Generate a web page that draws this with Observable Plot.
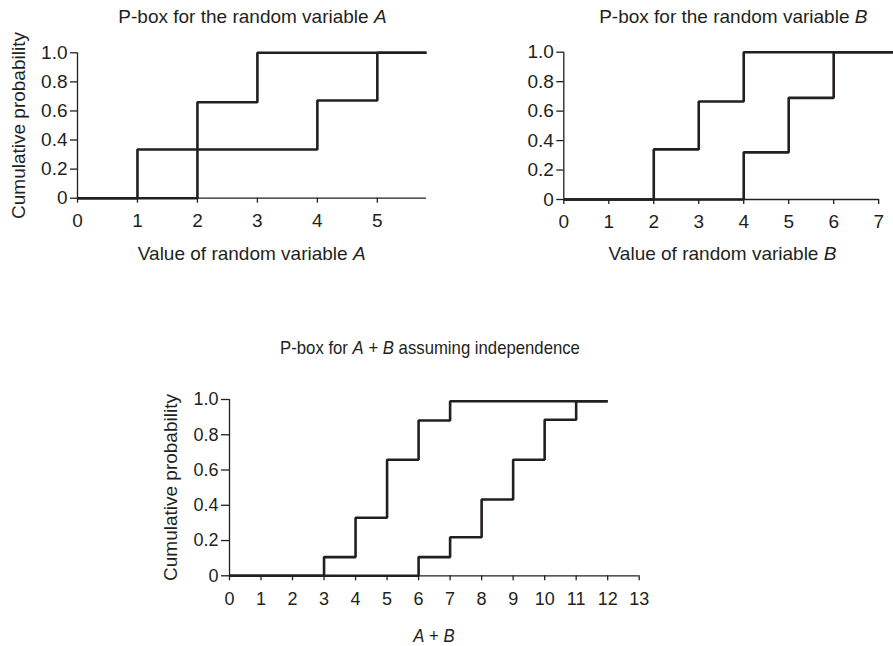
<!DOCTYPE html>
<html>
<head>
<meta charset="utf-8">
<script src="https://cdn.jsdelivr.net/npm/d3@7"></script>
<script src="https://cdn.jsdelivr.net/npm/@observablehq/plot@0.6"></script>
<style>
  html, body { margin: 0; padding: 0; background: #fff; }
  #root { position: relative; width: 893px; height: 646px; background: #fff; overflow: hidden;
          font-family: "Liberation Sans", Arial, Helvetica, sans-serif; color: #231f20; }
  .lbl { position: absolute; white-space: nowrap; text-align: center; line-height: 1; font-size: 19px; }
</style>
</head>
<body>
<div id="root"></div>
<script>
// ---------------- data ----------------
// P-box for A
const aLeftX  = [0, 1, 2, 3, 5.82];
const aLeftP  = [0, 0.335, 0.66, 1.0, 1.0];
const aRightX = [0, 2, 4, 5, 5.82];
const aRightP = [0, 0.335, 0.672, 1.0, 1.0];
const aXTicks = [0, 1, 2, 3, 4, 5];
const aXDomain = [0, 5.82];
const aAxisEnd = 5.82;

// P-box for B
const bLeftX  = [0, 2, 3, 4, 7.33];
const bLeftP  = [0, 0.34, 0.665, 1.0, 1.0];
const bRightX = [0, 4, 5, 6, 7.33];
const bRightP = [0, 0.32, 0.69, 1.0, 1.0];
const bXTicks = [0, 1, 2, 3, 4, 5, 6, 7];
const bXDomain = [0, 7.33];
const bAxisEnd = 7;

// P-box for A + B
const sLeftX  = [0, 3, 4, 5, 6, 7, 12];
const sLeftP  = [0, 0.106, 0.329, 0.658, 0.881, 0.99, 0.99];
const sRightX = [0, 6, 7, 8, 9, 10, 11, 12];
const sRightP = [0, 0.106, 0.219, 0.433, 0.658, 0.885, 0.99, 0.99];
const sXTicks = [0, 1, 2, 3, 4, 5, 6, 7, 8, 9, 10, 11, 12, 13];
const sXDomain = [0, 13];
const sAxisEnd = 13;

const yTicks = [0, 0.2, 0.4, 0.6, 0.8, 1.0];
const yDomain = [0, 1];

// ---------------- drawing ----------------
const INK = "#231f20";
const root = document.getElementById("root");
const fmtY = d => d === 0 ? "0" : d.toFixed(1);
const toRows = (xs, ps) => xs.map((x, i) => ({x, p: ps[i]}));

function panel({left, top, width, height, mL, mR, mT, mB, xDomain, xTicks, axisEnd, curves,
                fontSize, yTickSize, yTickPad, xTickSize, xTickPad}) {
  const marks = [
    Plot.ruleX([{x: 0, y1: yDomain[0], y2: yDomain[1]}], {x: "x", y1: "y1", y2: "y2", stroke: INK, strokeWidth: 1.3}),
    Plot.ruleY([{y: 0, x1: xDomain[0], x2: axisEnd}], {y: "y", x1: "x1", x2: "x2", stroke: INK, strokeWidth: 1.3}),
    Plot.axisY({ticks: yTicks, tickFormat: fmtY, tickSize: yTickSize, tickPadding: yTickPad,
                stroke: INK, strokeWidth: 1.3, label: null}),
    Plot.axisX({ticks: xTicks, tickFormat: d => String(d), tickSize: xTickSize, tickPadding: xTickPad,
                stroke: INK, strokeWidth: 1.3, label: null}),
    ...curves.map(c => Plot.line(c, {x: "x", y: "p", curve: "step-after", stroke: INK, strokeWidth: 2.6,
                                     strokeLinejoin: "miter", strokeLinecap: "butt"}))
  ];
  const svg = Plot.plot({
    width, height,
    marginLeft: mL, marginRight: mR, marginTop: mT, marginBottom: mB,
    x: {domain: xDomain, axis: null},
    y: {domain: yDomain, axis: null},
    style: {
      position: "absolute", left: left + "px", top: top + "px",
      fontFamily: '"Liberation Sans", Arial, Helvetica, sans-serif',
      fontSize: fontSize + "px", color: INK, background: "transparent", overflow: "visible",
      maxWidth: "none"
    },
    marks
  });
  root.appendChild(svg);
}

panel({left: 0, top: 0, width: 440, height: 240, mL: 77, mR: 14, mT: 52.3, mB: 42.3,
       xDomain: aXDomain, xTicks: aXTicks, axisEnd: aAxisEnd,
       curves: [toRows(aLeftX, aLeftP), toRows(aRightX, aRightP)],
       fontSize: 19, yTickSize: 7, yTickPad: 3, xTickSize: 5, xTickPad: 10});

panel({left: 440, top: 0, width: 453, height: 240, mL: 123.3, mR: 0, mT: 51.7, mB: 41,
       xDomain: bXDomain, xTicks: bXTicks, axisEnd: bAxisEnd,
       curves: [toRows(bLeftX, bLeftP), toRows(bRightX, bRightP)],
       fontSize: 19, yTickSize: 7, yTickPad: 3, xTickSize: 5, xTickPad: 10});

panel({left: 150, top: 380, width: 520, height: 230, mL: 79, mR: 31.3, mT: 19, mB: 34.7,
       xDomain: sXDomain, xTicks: sXTicks, axisEnd: sAxisEnd,
       curves: [toRows(sLeftX, sLeftP), toRows(sRightX, sRightP)],
       fontSize: 18, yTickSize: 8, yTickPad: 3, xTickSize: 5, xTickPad: 11});

// ---------------- titles and axis labels ----------------
function label(html, cx, top, scaleX) {
  const d = document.createElement("div");
  d.className = "lbl";
  d.style.left = (cx - 300) + "px";
  d.style.width = "600px";
  d.style.top = top + "px";
  if (scaleX) d.style.transform = `scaleX(${scaleX})`;
  d.innerHTML = html;
  root.appendChild(d);
}
function vlabel(text, cx, cy) {
  const d = document.createElement("div");
  d.className = "lbl";
  d.style.left = (cx - 150) + "px";
  d.style.width = "300px";
  d.style.height = "19px";
  d.style.top = (cy - 9.5) + "px";
  d.style.transform = "rotate(-90deg)";
  d.textContent = text;
  root.appendChild(d);
}

label("P-box for the random variable <i>A</i>", 252.5, 6.6);
label("P-box for the random variable <i>B</i>", 733.3, 6.6);
label("Value of random variable <i>A</i>", 251.7, 243.9);
label("Value of random variable <i>B</i>", 722.5, 243.9);
label("P-box for <i>A</i> + <i>B</i> assuming independence", 430, 337.9, 0.88);
label("<i>A</i> + <i>B</i>", 434, 625.9, 0.88);
vlabel("Cumulative probability", 18.1, 125);
vlabel("Cumulative probability", 169.7, 487);
</script>
</body>
</html>
